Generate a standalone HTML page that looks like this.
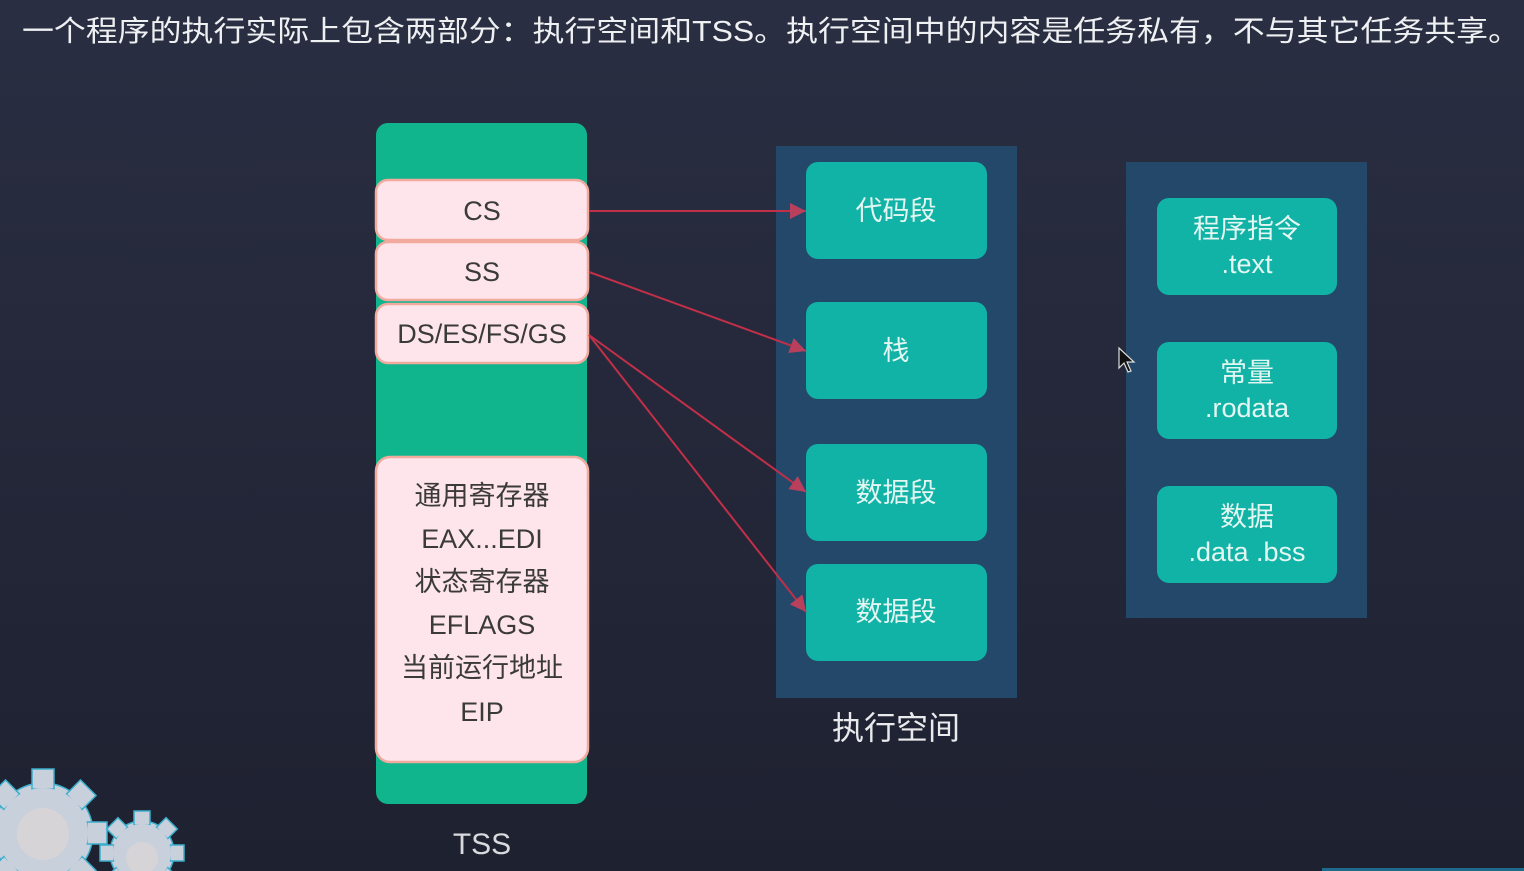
<!DOCTYPE html>
<html><head><meta charset="utf-8"><style>
html,body{margin:0;padding:0;width:1524px;height:871px;overflow:hidden;background:#272b3e}
svg{display:block}
text{font-family:"Liberation Sans","Noto Sans CJK SC",sans-serif}
</style></head><body>
<svg width="1524" height="871" viewBox="0 0 1524 871" xmlns="http://www.w3.org/2000/svg">
<defs>
<linearGradient id="bg" x1="0" y1="0" x2="0" y2="1">
<stop offset="0" stop-color="#2a2e42"/><stop offset="1" stop-color="#1e2130"/>
</linearGradient>
<marker id="ah2" viewBox="0 0 10 10" markerWidth="18" markerHeight="16" refX="10" refY="5" orient="auto" markerUnits="userSpaceOnUse">
<path d="M0,0 L10,5 L0,10 z" fill="#b8405c"/>
</marker>
</defs>
<rect width="1524" height="871" fill="url(#bg)"/>
<rect x="1322" y="868" width="202" height="3" fill="#1d6a8a"/>

<text x="22" y="41" font-size="29" fill="#eef0f2" textLength="1498" lengthAdjust="spacingAndGlyphs">一个程序的执行实际上包含两部分：执行空间和TSS。执行空间中的内容是任务私有，不与其它任务共享。</text>

<!-- TSS -->
<rect x="376" y="123" width="211" height="681" rx="12" fill="#10b58e"/>
<g fill="#fde5eb" stroke="#f2aa9e" stroke-width="2.5">
<rect x="376" y="180" width="212" height="60" rx="12"/>
<rect x="376" y="242" width="212" height="58" rx="12"/>
<rect x="376" y="304" width="212" height="59" rx="12"/>
<rect x="376" y="457" width="212" height="305" rx="14"/>
</g>
<g font-size="27" fill="#3a3a3a" text-anchor="middle">
<text x="482" y="220">CS</text>
<text x="482" y="281">SS</text>
<text x="482" y="343">DS/ES/FS/GS</text>
<text x="482" y="505">通用寄存器</text>
<text x="482" y="548">EAX...EDI</text>
<text x="482" y="591">状态寄存器</text>
<text x="482" y="634">EFLAGS</text>
<text x="482" y="677">当前运行地址</text>
<text x="482" y="721">EIP</text>
</g>
<text x="482" y="854" font-size="30" fill="#d8dadd" text-anchor="middle">TSS</text>

<!-- exec space -->
<rect x="776" y="146" width="241" height="552" fill="#23486a"/>
<g fill="#11b3a6">
<rect x="806" y="162" width="181" height="97" rx="12"/>
<rect x="806" y="302" width="181" height="97" rx="12"/>
<rect x="806" y="444" width="181" height="97" rx="12"/>
<rect x="806" y="564" width="181" height="97" rx="12"/>
</g>
<g font-size="27" fill="#e4f6f2" text-anchor="middle">
<text x="896" y="220">代码段</text>
<text x="896" y="360">栈</text>
<text x="896" y="502">数据段</text>
<text x="896" y="621">数据段</text>
</g>
<text x="896" y="739" font-size="32" fill="#e8eaec" text-anchor="middle">执行空间</text>

<!-- right panel -->
<rect x="1126" y="162" width="241" height="456" fill="#23486a"/>
<g fill="#11b3a6">
<rect x="1157" y="198" width="180" height="97" rx="12"/>
<rect x="1157" y="342" width="180" height="97" rx="12"/>
<rect x="1157" y="486" width="180" height="97" rx="12"/>
</g>
<g font-size="27" fill="#e4f6f2" text-anchor="middle">
<text x="1247" y="238">程序指令</text>
<text x="1247" y="273">.text</text>
<text x="1247" y="382">常量</text>
<text x="1247" y="417">.rodata</text>
<text x="1247" y="526">数据</text>
<text x="1247" y="561">.data .bss</text>
</g>

<!-- arrows -->
<g stroke="#c12f48" stroke-width="2" fill="none" marker-end="url(#ah2)">
<line x1="589" y1="211" x2="806" y2="211"/>
<line x1="589" y1="272" x2="806" y2="351"/>
<line x1="589" y1="335" x2="806" y2="492"/>
<line x1="589" y1="335" x2="806" y2="612"/>
</g>

<!-- cursor -->
<path d="M1119,348 L1119,368 L1124,363 L1128,372 L1131,371 L1127,362 L1134,362 Z" fill="#111" stroke="#ddd" stroke-width="1.2"/>

<!-- gears -->
<g fill="#c8d0dc" stroke="#3aaecc" stroke-width="1.5">
<g transform="translate(43,833)">
<circle r="50"/>
<g id="t1"><rect x="-11" y="-64" width="22" height="20"/></g>
<use href="#t1" transform="rotate(45)"/><use href="#t1" transform="rotate(90)"/><use href="#t1" transform="rotate(135)"/>
<use href="#t1" transform="rotate(180)"/><use href="#t1" transform="rotate(225)"/><use href="#t1" transform="rotate(270)"/><use href="#t1" transform="rotate(315)"/>
</g>
<g transform="translate(142,853)">
<circle r="32"/>
<g id="t2"><rect x="-8" y="-42" width="16" height="14"/></g>
<use href="#t2" transform="rotate(45)"/><use href="#t2" transform="rotate(90)"/><use href="#t2" transform="rotate(135)"/>
<use href="#t2" transform="rotate(180)"/><use href="#t2" transform="rotate(225)"/><use href="#t2" transform="rotate(270)"/><use href="#t2" transform="rotate(315)"/>
</g>
</g>
<circle cx="43" cy="833" r="45" fill="#c8d0dc"/>
<circle cx="142" cy="853" r="29" fill="#c8d0dc"/>
<circle cx="43" cy="834" r="26" fill="#d6d4d6"/>
<circle cx="142" cy="858" r="16" fill="#d6d4d6"/>
</svg>
</body></html>
